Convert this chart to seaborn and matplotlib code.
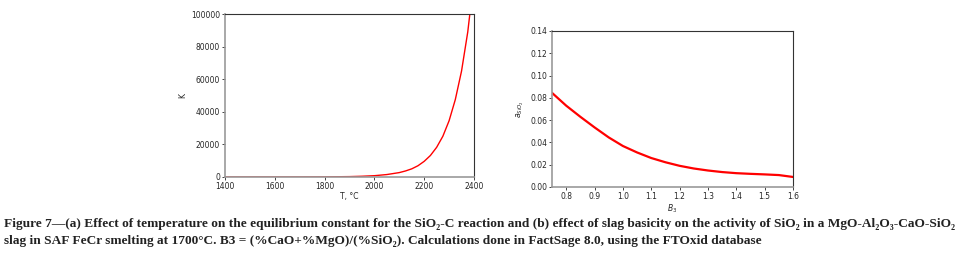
import numpy as np
import matplotlib
matplotlib.use("Agg")
import matplotlib.pyplot as plt
import seaborn as sns

# (a) equilibrium constant vs temperature
temp_c = [1400, 1500, 1600, 1700, 1800, 1900, 1950, 2000, 2050, 2100, 2125, 2150,
          2175, 2200, 2225, 2250, 2275, 2300, 2325, 2350, 2375, 2400]
k_eq = [0.1, 1, 5, 20, 70, 240, 450, 800, 1500, 2700, 3700, 5000,
        6900, 9600, 13200, 18200, 25000, 34500, 47500, 65000, 89000, 122000]

# (b) activity of SiO2 vs basicity
basicity = [0.75, 0.8, 0.85, 0.9, 0.95, 1.0, 1.05, 1.1, 1.15, 1.2, 1.25, 1.3,
            1.35, 1.4, 1.45, 1.5, 1.55, 1.6]
a_sio2 = [0.0845, 0.073, 0.063, 0.0535, 0.0445, 0.0368, 0.031, 0.026, 0.0222, 0.019,
          0.0166, 0.0148, 0.0134, 0.0124, 0.0118, 0.0113, 0.0107, 0.009]

left_xticks = [1400, 1600, 1800, 2000, 2200, 2400]
left_yticks = [0, 20000, 40000, 60000, 80000, 100000]
right_xticks = [0.8, 0.9, 1.0, 1.1, 1.2, 1.3, 1.4, 1.5, 1.6]
right_yticks = [0.00, 0.02, 0.04, 0.06, 0.08, 0.10, 0.12, 0.14]

sns.set_style("ticks")
plt.rcParams['font.family'] = ['DejaVu Sans']

fig = plt.figure(figsize=(9.63, 2.57), dpi=100)
ax1 = fig.add_axes([0.2336, 0.3113, 0.2586, 0.6342])
ax2 = fig.add_axes([0.5732, 0.2724, 0.2503, 0.6070])

tick_fs = 5.5

sns.lineplot(x=temp_c, y=k_eq, ax=ax1, color='red', linewidth=1.0)
ax1.set_xlim(1400, 2400)
ax1.set_ylim(0, 100000)
ax1.set_xticks(left_xticks)
ax1.set_yticks(left_yticks)
ax1.set_xlabel('T, °C', fontsize=tick_fs, labelpad=1)
ax1.set_ylabel('K', fontsize=tick_fs, labelpad=3)

sns.lineplot(x=basicity, y=a_sio2, ax=ax2, color='red', linewidth=1.6)
ax2.set_xlim(0.75, 1.6)
ax2.set_ylim(0, 0.14)
ax2.set_xticks(right_xticks)
ax2.set_yticks(right_yticks)
ax2.set_xticklabels([f'{v:.1f}' for v in right_xticks])
ax2.set_yticklabels([f'{v:.2f}' for v in right_yticks])
ax2.set_xlabel('$B_3$', fontsize=tick_fs, labelpad=1)
ax2.set_ylabel('$a_{SiO_2}$', fontsize=tick_fs, labelpad=3)

for ax in (ax1, ax2):
    ax.tick_params(labelsize=tick_fs, length=2, width=0.6, pad=1.5)
    for s in ax.spines.values():
        s.set_linewidth(0.8)
        s.set_color('#333333')
    ax.spines['left'].set_color('#999999')
    ax.spines['bottom'].set_color('#999999')
    ax.spines['left'].set_linewidth(1.2)
    ax.spines['bottom'].set_linewidth(1.2)

cap_font = ['Liberation Serif', 'DejaVu Serif']
line1 = ('Figure 7\u2014(a) Effect of temperature on the equilibrium constant for the SiO\u2082-C reaction '
         'and (b) effect of slag basicity on the activity of SiO\u2082 in a MgO-Al\u2082O\u2083-CaO-SiO\u2082')
line2 = ('slag in SAF FeCr smelting at 1700\u00b0C. B3 = (%CaO+%MgO)/(%SiO\u2082). '
         'Calculations done in FactSage 8.0, using the FTOxid database')
fig.text(0.004, 1 - 224 / 257, line1, family=cap_font, fontweight='bold', fontsize=9.6,
         va='center', ha='left', color='#222222')
fig.text(0.004, 1 - 241 / 257, line2, family=cap_font, fontweight='bold', fontsize=9.6,
         va='center', ha='left', color='#222222')

fig.savefig('out.png', dpi=100)
